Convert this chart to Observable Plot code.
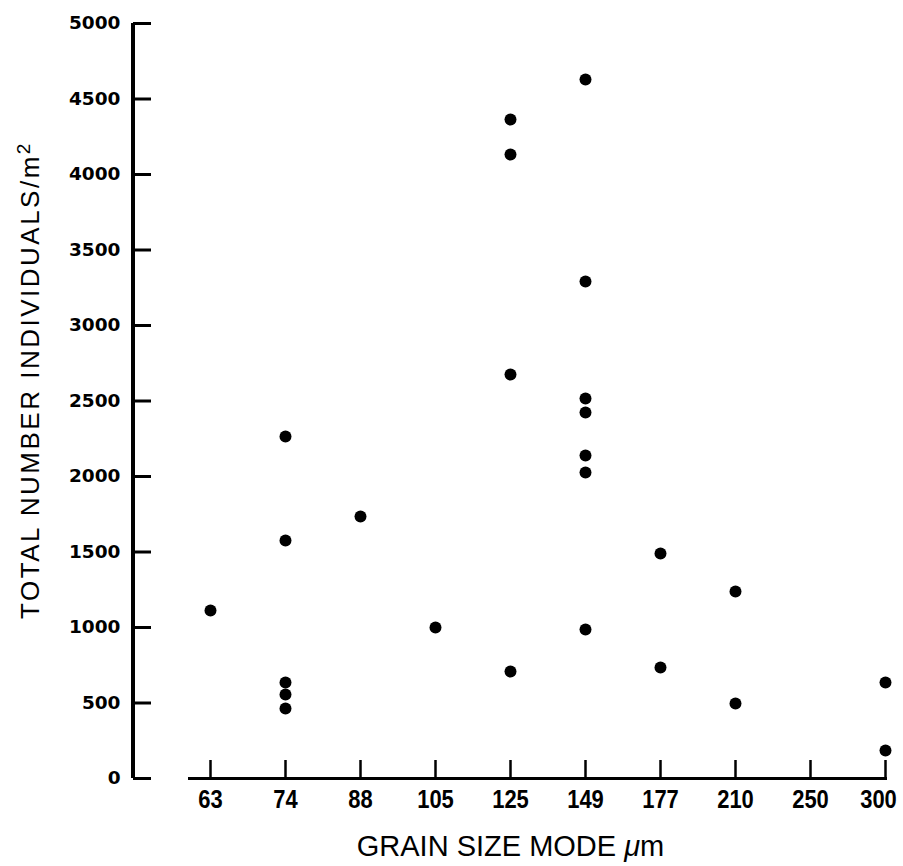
<!DOCTYPE html>
<html>
<head>
<meta charset="utf-8">
<script src="https://cdn.jsdelivr.net/npm/d3@7"></script>
<script src="https://cdn.jsdelivr.net/npm/@observablehq/plot@0.6"></script>
<style>
  html, body { margin: 0; padding: 0; background: #fff; }
  #chart svg { display: block; }
  .ylab { font-family: "DejaVu Sans", "Liberation Sans", sans-serif !important; font-weight: bold !important; font-size: 18.5px !important; }
  .xlab { font-family: "Liberation Sans", Arial, sans-serif !important; font-weight: bold !important; font-size: 26px !important; }
  .ttl { font-family: "Liberation Sans", Arial, sans-serif !important; font-weight: normal !important; }
</style>
</head>
<body>
<div id="chart"></div>
<script>
// Grain size classes (µm), evenly spaced on the axis
const grainSizes = [63, 74, 88, 105, 125, 149, 177, 210, 250, 300];
// Y-axis tick values
const yTicks = [0, 500, 1000, 1500, 2000, 2500, 3000, 3500, 4000, 4500, 5000];
// Samples: grain size mode and total number of individuals per m²
const sampleGrain = [63, 74, 74, 74, 74, 74, 88, 105, 125, 125, 125, 125,
                     149, 149, 149, 149, 149, 149, 149, 177, 177, 210, 210, 300, 300];
const sampleCount = [1113, 2265, 1576, 636, 556, 464, 1735, 1000, 4364, 4132, 2675, 709,
                     4629, 3291, 2517, 2424, 2139, 2026, 987, 1490, 735, 1238, 497, 636, 185];

const yTitle = "TOTAL NUMBER INDIVIDUALS/m2";
const xTitle = "GRAIN SIZE MODE μm";

const samples = sampleGrain.map((g, i) => ({grain: g, count: sampleCount[i]}));

const W = 903, H = 866, mL = 133, mR = 16, mT = 23, mB = 88;
const frameW = W - mL - mR, frameH = H - mT - mB;

const chart = Plot.plot({
  width: W,
  height: H,
  marginLeft: mL,
  marginRight: mR,
  marginTop: mT,
  marginBottom: mB,
  style: {background: "white", color: "black"},
  x: {type: "point", domain: grainSizes, range: [209, 885], padding: 0},
  y: {domain: [yTicks[0], yTicks[yTicks.length - 1]]},
  marks: [
    // y-axis line
    Plot.rect([0], {y1: () => yTicks[0], y2: () => yTicks[yTicks.length - 1], insetRight: frameW - 4, dx: -2, fill: "black"}),
    // y ticks pointing inward
    Plot.ruleY(yTicks, {y: d => d, insetRight: frameW - 18, strokeWidth: 3}),
    Plot.axisY(yTicks, {tickSize: 0, tickPadding: 13, tickFormat: d => String(d), fontSize: 18.5, label: null}),
    // x-axis line
    Plot.ruleY([yTicks[0]], {y: d => d, insetLeft: 55, strokeWidth: 3}),
    // x ticks pointing up
    Plot.ruleX(grainSizes, {x: d => d, insetTop: frameH - 18, strokeWidth: 2.5}),
    Plot.axisX({tickSize: 0, tickPadding: 11, tickFormat: d => String(d), fontSize: 26, label: null}),
    // points
    Plot.dot(samples, {x: "grain", y: "count", r: 6, fill: "black", stroke: "none"}),
    // titles
    Plot.text([yTitle], {frameAnchor: "left", dx: -95, dy: -21, rotate: -90, lineAnchor: "bottom", textAnchor: "middle", fontSize: 26}),
    Plot.text([xTitle], {frameAnchor: "bottom", dy: 77, lineAnchor: "bottom", textAnchor: "middle", fontSize: 29})
  ]
});

document.getElementById("chart").appendChild(chart);

const yLabelSet = new Set(yTicks.map(String));
const xLabelSet = new Set(grainSizes.map(String));
const lastGrain = String(grainSizes[grainSizes.length - 1]);
d3.select(chart).selectAll("text").each(function() {
  const t = d3.select(this);
  const s = t.text();
  if (s === yTitle) {
    t.classed("ttl", true).style("letter-spacing", "2.5px");
    t.text(null);
    t.append("tspan").text("TOTAL NUMBER INDIVIDUALS/m");
    t.append("tspan").attr("dy", "-0.45em").attr("font-size", "19px").text("2");
  } else if (s === xTitle) {
    t.classed("ttl", true);
    t.text(null);
    t.append("tspan").text("GRAIN SIZE MODE ");
    t.append("tspan").attr("font-style", "italic").text("μ");
    t.append("tspan").text("m");
  } else if (d3.select(this.parentNode).attr("aria-label") === "y-axis tick label" || (yLabelSet.has(s) && !xLabelSet.has(s))) {
    t.classed("ylab", true);
  } else if (xLabelSet.has(s)) {
    t.classed("xlab", true)
      .attr("textLength", 12.2 * s.length)
      .attr("lengthAdjust", "spacingAndGlyphs");
    if (s === lastGrain) t.attr("dx", -7);
  }
});
</script>
</body>
</html>
